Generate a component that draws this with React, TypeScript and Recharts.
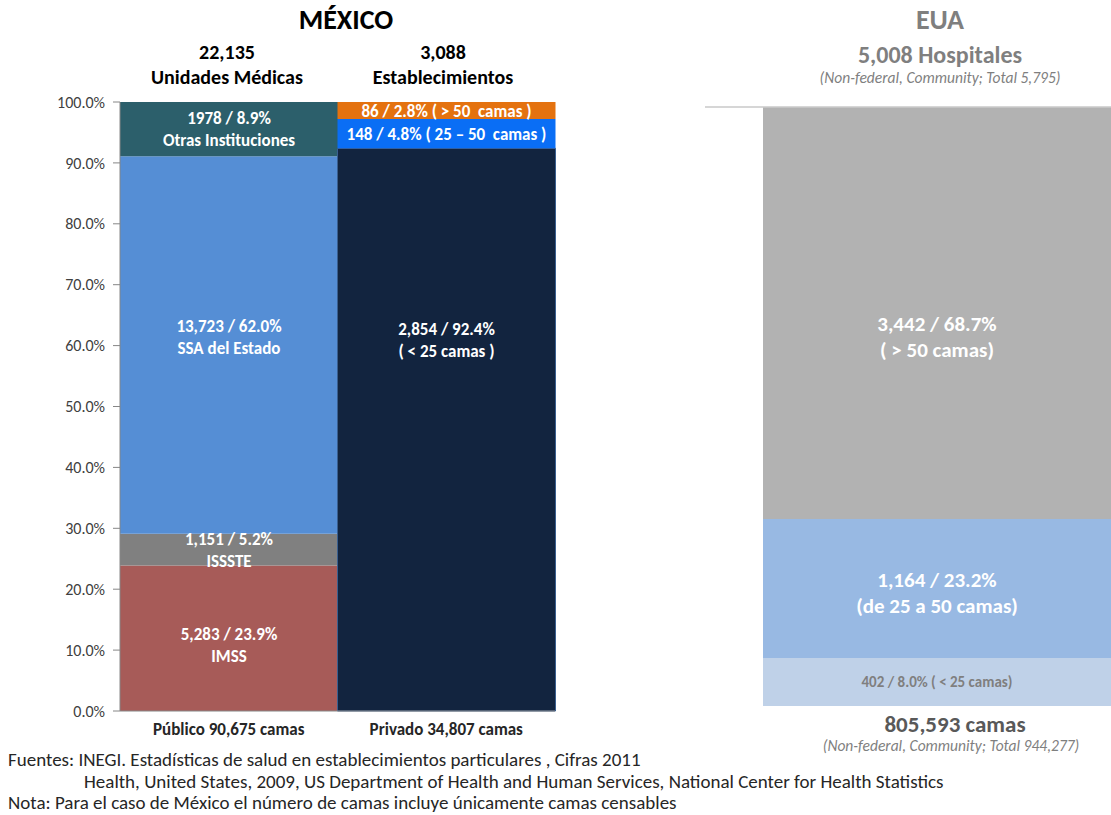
import { BarChart, Bar, XAxis, YAxis, CartesianGrid, LabelList } from 'recharts'

// México – two stacked columns (percent of units in each sector)
const categories = ['Público 90,675 camas', 'Privado 34,807 camas']

const publicoKeys = ['imss', 'issste', 'ssa', 'otras']
const publicoPct = [23.9, 5.2, 62.0, 8.9]
const publicoCount = ['5,283', '1,151', '13,723', '1978']
const publicoNames = ['IMSS', 'ISSSTE', 'SSA del Estado', 'Otras Instituciones']

const privadoKeys = ['p25', 'p2550', 'p50']
const privadoPct = [92.4, 4.8, 2.8]
const privadoCount = ['2,854', '148', '86']
const privadoNames = ['( < 25 camas )', ' ( 25 – 50  camas )', ' ( > 50  camas )']

// EUA – single stacked column
const euaKeys = ['e25', 'e2550', 'e50']
const euaPct = [8.0, 23.2, 68.7]
const euaCount = ['402', '1,164', '3,442']
const euaNames = ['( < 25 camas)', '(de 25 a 50 camas)', '( > 50 camas)']

const yTicks = [0, 10, 20, 30, 40, 50, 60, 70, 80, 90, 100]

const FONT = 'Carlito, Lato, "Open Sans", sans-serif'

const mxData = categories.map((name, i) => {
  const row: Record<string, string | number> = { name }
  if (i === 0) publicoKeys.forEach((k, j) => (row[k] = publicoPct[j]))
  else privadoKeys.forEach((k, j) => (row[k] = privadoPct[j]))
  return row
})

const euaData = [
  euaKeys.reduce<Record<string, string | number>>((row, k, j) => {
    row[k] = euaPct[j]
    return row
  }, { name: 'EUA' }),
]

const fmtPct = (v: number) => `${v.toFixed(1)}%`

type LabelOpts = { size: number; color: string; gap: number; dy?: number; weight?: number }

function makeLabel(lines: string[], opts: LabelOpts) {
  return (props: any) => {
    const x = Number(props.x)
    const y = Number(props.y)
    const w = Number(props.width)
    const h = Number(props.height)
    if (!props.value || !h) return null
    const cx = x + w / 2
    const cy = y + h / 2 + (opts.dy ?? 0)
    const start = cy - ((lines.length - 1) * opts.gap) / 2
    return (
      <text
        x={cx}
        y={start}
        textAnchor="middle"
        dominantBaseline="central"
        fill={opts.color}
        fontSize={opts.size}
        fontWeight={opts.weight ?? 700}
        fontFamily={FONT}
        style={{ whiteSpace: 'pre' }}
      >
        {lines.map((l, i) => (
          <tspan key={i} x={cx} dy={i === 0 ? 0 : opts.gap}>
            {l}
          </tspan>
        ))}
      </text>
    )
  }
}

const publicoColors = ['#a75b58', '#808080', '#558ed5', '#2c5f6b']
const privadoColors = ['#12243f', '#0a6ef5', '#e4720f']
const euaColors = ['#bfd1e8', '#98b9e3', '#b2b2b2']

const publicoDy = [7, 0, -8, 0]
const privadoDy = [-90, 0, 0]

const abs = (left: number, top: number, style: React.CSSProperties = {}): React.CSSProperties => ({
  position: 'absolute',
  left,
  top,
  transform: 'translate(-50%, -50%)',
  whiteSpace: 'nowrap',
  fontFamily: FONT,
  lineHeight: 1,
  ...style,
})

export default function App() {
  return (
    <div
      style={{
        position: 'absolute',
        left: 0,
        top: 0,
        width: 1111,
        height: 815,
        background: '#ffffff',
        fontFamily: FONT,
        overflow: 'hidden',
      }}
    >
      <div style={abs(346, 20, { fontSize: 28, fontWeight: 700, color: '#000' })}>MÉXICO</div>
      <div style={abs(227, 52, { fontSize: 20, fontWeight: 700, color: '#000' })}>22,135</div>
      <div style={abs(227, 77, { fontSize: 20, fontWeight: 700, color: '#000' })}>Unidades Médicas</div>
      <div style={abs(443, 52, { fontSize: 20, fontWeight: 700, color: '#000' })}>3,088</div>
      <div style={abs(443, 77, { fontSize: 20, fontWeight: 700, color: '#000' })}>Establecimientos</div>

      <div style={abs(940, 20, { fontSize: 28, fontWeight: 700, color: '#7f7f7f' })}>EUA</div>
      <div style={abs(940, 55, { fontSize: 24, fontWeight: 700, color: '#7f7f7f' })}>5,008 Hospitales</div>
      <div style={abs(940, 78, { fontSize: 15.5, fontStyle: 'italic', color: '#7f7f7f' })}>
        (Non-federal, Community; Total 5,795)
      </div>
      <div style={abs(955, 724, { fontSize: 23, fontWeight: 700, color: '#595959' })}>805,593 camas</div>
      <div style={abs(951, 746, { fontSize: 15.5, fontStyle: 'italic', color: '#7f7f7f' })}>
        (Non-federal, Community; Total 944,277)
      </div>

      <div style={{ position: 'absolute', left: 0, top: 0 }}>
        <BarChart
          width={560}
          height={760}
          data={mxData}
          margin={{ top: 102, right: 5, bottom: 19, left: 0 }}
          barCategoryGap={0}
          barGap={0}
        >
          <XAxis
            dataKey="name"
            height={30}
            axisLine={{ stroke: '#868686' }}
            tickLine={false}
            tickMargin={6}
            tick={{ fill: '#262626', fontSize: 17, fontWeight: 700, fontFamily: FONT }}
          />
          <YAxis
            width={120}
            domain={[0, 100]}
            ticks={yTicks}
            tickFormatter={fmtPct}
            axisLine={{ stroke: '#868686' }}
            tickLine={{ stroke: '#868686' }}
            tickSize={7}
            tickMargin={8}
            tick={{ fill: '#404040', fontSize: 16, fontFamily: FONT }}
          />
          {publicoKeys.map((k, j) => (
            <Bar key={k} dataKey={k} stackId="mx" fill={publicoColors[j]} isAnimationActive={false}>
              <LabelList
                dataKey={k}
                content={makeLabel([`${publicoCount[j]} / ${fmtPct(publicoPct[j])}`, publicoNames[j]], {
                  size: 17,
                  color: '#ffffff',
                  gap: 22,
                  dy: publicoDy[j],
                })}
              />
            </Bar>
          ))}
          {privadoKeys.map((k, j) => (
            <Bar
              key={k}
              dataKey={k}
              stackId="mx"
              fill={privadoColors[j]}
              stroke={j === 0 ? '#3a5f8f' : undefined}
              strokeWidth={j === 0 ? 1 : 0}
              isAnimationActive={false}
            >
              <LabelList
                dataKey={k}
                content={makeLabel(
                  j === 0
                    ? [`${privadoCount[j]} / ${fmtPct(privadoPct[j])}`, privadoNames[j]]
                    : [`${privadoCount[j]} / ${fmtPct(privadoPct[j])}${privadoNames[j]}`],
                  { size: 17, color: '#ffffff', gap: 22, dy: privadoDy[j] },
                )}
              />
            </Bar>
          ))}
        </BarChart>
      </div>

      <div style={{ position: 'absolute', left: 700, top: 0 }}>
        <BarChart
          width={411}
          height={760}
          data={euaData}
          margin={{ top: 107, right: 0, bottom: 54, left: 5 }}
          barCategoryGap={0}
        >
          <CartesianGrid vertical={false} horizontalValues={[100]} stroke="#c8c8c8" strokeWidth={1.5} />
          <XAxis dataKey="name" hide padding={{ left: 58, right: 0 }} />
          <YAxis hide domain={[0, 100]} />
          {euaKeys.map((k, j) => (
            <Bar key={k} dataKey={k} stackId="eua" fill={euaColors[j]} isAnimationActive={false}>
              <LabelList
                dataKey={k}
                content={makeLabel(
                  j === 0
                    ? [`${euaCount[j]} / ${fmtPct(euaPct[j])} ${euaNames[j]}`]
                    : [`${euaCount[j]} / ${fmtPct(euaPct[j])}`, euaNames[j]],
                  j === 0
                    ? { size: 15, color: '#7f7f7f', gap: 0, weight: 700 }
                    : { size: 21, color: '#ffffff', gap: 26, dy: j === 2 ? 24 : 4 },
                )}
              />
            </Bar>
          ))}
        </BarChart>
      </div>

      <div style={{ position: 'absolute', left: 8, top: 749, fontSize: 19, color: '#262626', lineHeight: '21.5px' }}>
        <div>Fuentes: INEGI. Estadísticas de salud en establecimientos particulares , Cifras 2011</div>
        <div style={{ paddingLeft: 76 }}>
          Health, United States, 2009, US Department of Health and Human Services, National Center for Health Statistics
        </div>
        <div>Nota: Para el caso de México el número de camas incluye únicamente camas censables</div>
      </div>
    </div>
  )
}
